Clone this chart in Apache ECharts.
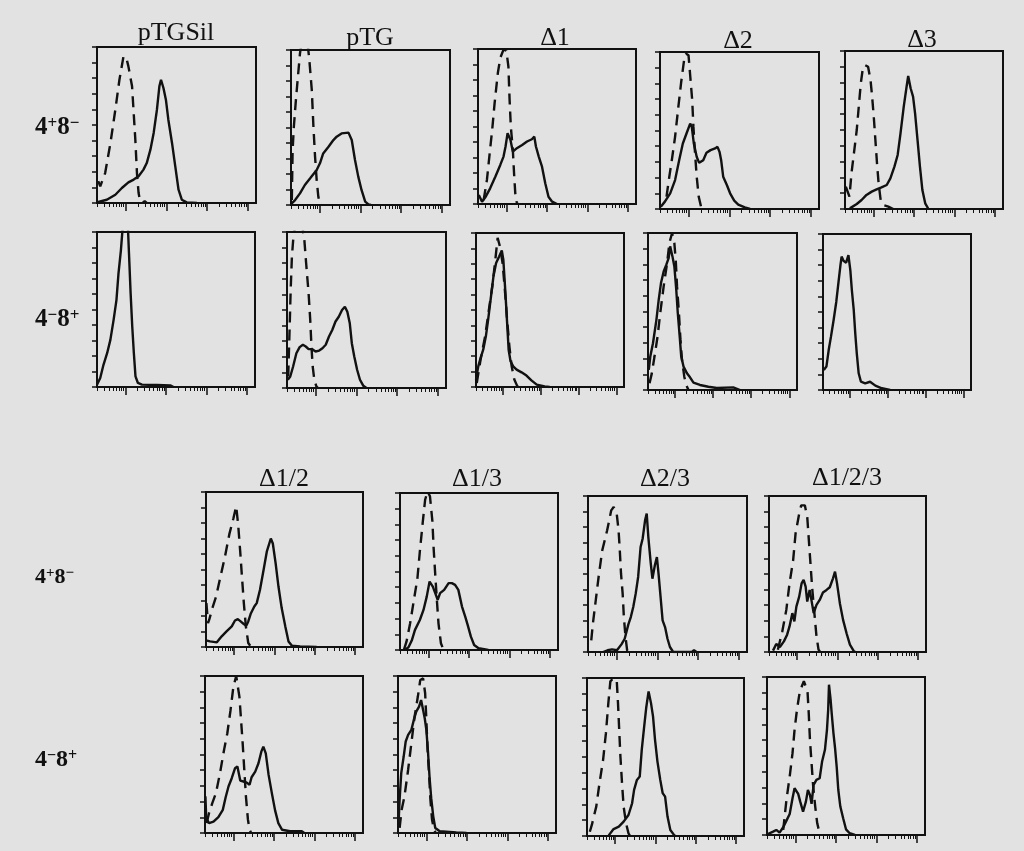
<!DOCTYPE html>
<html>
<head>
<meta charset="utf-8">
<script src="https://cdn.jsdelivr.net/npm/echarts@6/dist/echarts.min.js"></script>
<style>
html,body{margin:0;padding:0;background:#e2e2e2;}
#chart{width:1024px;height:851px;}
</style>
</head>
<body>
<div id="chart"></div>
<script>
// ---- titles and row labels ----
const panelTitles = ['pTGSil', 'pTG', 'Δ1', 'Δ2', 'Δ3', 'Δ1/2', 'Δ1/3', 'Δ2/3', 'Δ1/2/3'];
const rowLabels = ['4⁺8⁻', '4⁻8⁺', '4⁺8⁻', '4⁻8⁺'];
// x axis: log fluorescence in decades, major ticks at each decade
const majorTicks = [0.7, 1.7, 2.7, 3.7];
const minorTicks = [0.001, 0.177, 0.302, 0.399, 0.478, 0.545, 0.603, 0.654,
  1.001, 1.177, 1.302, 1.399, 1.478, 1.545, 1.603, 1.654,
  2.001, 2.177, 2.302, 2.399, 2.478, 2.545, 2.603, 2.654,
  3.001, 3.177, 3.302, 3.399, 3.478, 3.545, 3.603, 3.654];

// ---- histograms (x = decades, y = relative cell number) ----
// 4+8- , top block
const pTGSil_4p8m_dashed = [[0.03,1.4],[0.08,1.07],[0.20,1.92],[0.33,3.85],[0.45,5.98],[0.55,7.9],[0.65,9.4],[0.72,9.3],[0.77,8.76],[0.86,7.48],[0.90,5.77],[0.94,4.06],[0.98,1.92],[1.02,0.64],[1.06,0.1],[1.12,0],[1.17,0.12],[1.22,0]];
const pTGSil_4p8m_solid = [[0.01,0.05],[0.04,0.11],[0.24,0.21],[0.45,0.53],[0.61,0.96],[0.77,1.32],[0.90,1.50],[1.02,1.71],[1.14,2.14],[1.22,2.56],[1.31,3.42],[1.39,4.49],[1.47,5.98],[1.53,7.48],[1.57,7.9],[1.63,7.37],[1.69,6.62],[1.75,5.34],[1.84,3.85],[1.92,2.35],[2.00,0.85],[2.08,0.21],[2.20,0.04],[2.45,0]];
const pTG_4p8m_dashed = [[0.02,0.32],[0.04,3.55],[0.07,5.05],[0.12,6.77],[0.17,8.28],[0.22,9.78],[0.30,11.1],[0.40,10.6],[0.45,9.35],[0.51,7.42],[0.55,5.05],[0.59,3.12],[0.63,1.61],[0.67,0.54],[0.71,0.06],[0.75,0]];
const pTG_4p8m_solid = [[0,0.06],[0.10,0.32],[0.22,0.75],[0.34,1.29],[0.47,1.72],[0.63,2.26],[0.71,2.69],[0.79,3.33],[0.92,3.76],[1.04,4.19],[1.12,4.41],[1.24,4.62],[1.41,4.67],[1.45,4.58],[1.49,4.19],[1.57,2.9],[1.65,1.83],[1.73,0.97],[1.82,0.22],[1.90,0.04],[1.96,0]];
const d1_4p8m_dashed = [[0.14,0.26],[0.22,1.55],[0.28,3.06],[0.35,4.78],[0.41,6.51],[0.49,8.45],[0.55,9.42],[0.63,9.96],[0.70,9.9],[0.75,8.88],[0.78,6.72],[0.81,5.0],[0.86,3.49],[0.89,1.98],[0.92,0.69],[0.96,0.04],[1.0,0]];
const d1_4p8m_solid = [[0.02,0.58],[0.10,0.15],[0.18,0.43],[0.30,1.01],[0.43,1.77],[0.55,2.52],[0.63,3.06],[0.68,3.71],[0.73,4.57],[0.80,4.14],[0.86,3.38],[0.96,3.6],[1.09,3.81],[1.21,4.03],[1.33,4.18],[1.39,4.35],[1.43,3.71],[1.50,3.06],[1.58,2.41],[1.66,1.34],[1.74,0.47],[1.83,0.15],[1.95,0]];
const d2_4p8m_dashed = [[0.16,0.78],[0.21,1.74],[0.29,3.11],[0.37,4.6],[0.45,6.5],[0.52,8.09],[0.59,9.47],[0.64,9.89],[0.70,9.79],[0.74,8.52],[0.79,6.93],[0.82,5.23],[0.86,3.54],[0.90,2.06],[0.95,0.78],[1.01,0.11],[1.05,0]];
const d2_4p8m_solid = [[0.02,0.15],[0.12,0.47],[0.25,1.0],[0.37,1.84],[0.47,3.11],[0.56,4.17],[0.65,4.81],[0.74,5.44],[0.78,5.23],[0.83,4.17],[0.90,3.33],[0.96,2.94],[1.06,3.11],[1.14,3.58],[1.24,3.75],[1.35,3.86],[1.41,3.96],[1.46,3.64],[1.50,3.11],[1.55,2.06],[1.64,1.53],[1.72,1.0],[1.82,0.53],[1.92,0.28],[2.08,0.11],[2.21,0]];
const d3_4p8m_dashed = [[0.02,1.41],[0.11,0.78],[0.16,2.26],[0.22,3.52],[0.29,5.0],[0.34,6.48],[0.39,7.95],[0.44,8.9],[0.49,9.11],[0.57,9.0],[0.63,8.16],[0.67,7.11],[0.71,5.84],[0.75,4.37],[0.79,2.89],[0.83,1.62],[0.88,0.57],[0.94,0.25],[1.07,0.15],[1.19,0]];
const d3_4p8m_solid = [[0.12,0.04],[0.29,0.32],[0.41,0.57],[0.53,0.89],[0.66,1.1],[0.78,1.24],[0.90,1.37],[1.03,1.52],[1.12,1.94],[1.22,2.68],[1.30,3.42],[1.37,4.79],[1.45,6.48],[1.52,7.74],[1.56,8.42],[1.62,7.64],[1.68,7.11],[1.73,6.05],[1.79,4.37],[1.85,2.68],[1.91,1.2],[1.98,0.36],[2.06,0]];
// 4-8+ , top block
const pTGSil_4m8p_solid = [[0,0.15],[0.08,0.58],[0.16,1.43],[0.25,2.18],[0.33,3.04],[0.41,4.33],[0.48,5.61],[0.53,7.32],[0.59,8.82],[0.64,10.5],[0.70,11.4],[0.76,10.5],[0.79,8.6],[0.83,6.04],[0.87,3.9],[0.91,2.18],[0.95,0.69],[1.01,0.26],[1.11,0.15],[1.48,0.13],[1.81,0.1],[1.89,0]];
const pTG_4m8p_dashed = [[0.03,0.74],[0.07,4.36],[0.09,6.28],[0.12,8.4],[0.16,9.79],[0.23,10.7],[0.35,10.7],[0.42,9.68],[0.47,7.98],[0.53,6.06],[0.57,4.36],[0.60,2.66],[0.63,1.38],[0.67,0.53],[0.72,0.11],[0.76,0]];
const pTG_4m8p_solid = [[0.02,0.53],[0.08,0.74],[0.15,1.38],[0.23,2.23],[0.31,2.62],[0.39,2.77],[0.46,2.66],[0.53,2.49],[0.62,2.49],[0.70,2.34],[0.79,2.4],[0.87,2.55],[0.95,2.77],[1.03,3.3],[1.11,3.72],[1.19,4.26],[1.27,4.57],[1.35,5.0],[1.42,5.21],[1.48,4.89],[1.54,4.15],[1.59,2.87],[1.65,2.02],[1.72,1.17],[1.79,0.53],[1.87,0.15],[1.95,0]];
const d1_4m8p_dashed = [[0.02,0.26],[0.12,1.77],[0.24,3.29],[0.34,5.02],[0.43,6.54],[0.51,8.27],[0.57,9.68],[0.63,9.13],[0.70,8.05],[0.76,6.32],[0.82,4.37],[0.88,2.64],[0.94,1.34],[1.01,0.48],[1.09,0.04],[1.12,0]];
const d1_4m8p_solid = [[0,0.48],[0.06,1.34],[0.12,1.88],[0.19,2.42],[0.26,3.29],[0.32,4.37],[0.39,5.78],[0.46,7.19],[0.53,8.05],[0.61,8.48],[0.68,8.87],[0.72,8.27],[0.77,6.32],[0.82,4.16],[0.86,2.42],[0.91,1.67],[0.98,1.34],[1.07,1.13],[1.20,0.95],[1.33,0.74],[1.46,0.43],[1.60,0.15],[1.81,0.04],[1.94,0]];
const d2_4m8p_dashed = [[0.04,0.43],[0.10,1.06],[0.17,2.13],[0.25,3.4],[0.32,4.89],[0.41,6.6],[0.50,8.09],[0.56,9.36],[0.63,10.0],[0.69,9.36],[0.73,8.09],[0.76,6.6],[0.81,4.89],[0.85,3.19],[0.89,1.91],[0.95,0.85],[1.00,0.32],[1.06,0]];
const d2_4m8p_solid = [[0.02,1.28],[0.06,2.13],[0.13,2.98],[0.22,4.47],[0.28,5.74],[0.34,6.81],[0.41,7.55],[0.48,7.98],[0.54,8.4],[0.58,9.15],[0.64,8.51],[0.69,7.87],[0.74,6.38],[0.78,4.89],[0.83,3.4],[0.87,2.13],[0.93,1.49],[1.02,1.06],[1.10,0.81],[1.19,0.47],[1.36,0.32],[1.58,0.21],[1.80,0.13],[2.23,0.17],[2.41,0]];
const d3_4m8p_solid = [[0.02,1.28],[0.09,1.5],[0.15,2.56],[0.21,3.42],[0.28,4.49],[0.35,5.66],[0.41,6.94],[0.46,8.01],[0.49,8.55],[0.54,8.29],[0.61,8.16],[0.67,8.65],[0.72,7.69],[0.76,6.41],[0.81,5.13],[0.85,3.63],[0.89,2.35],[0.94,1.07],[1.00,0.53],[1.11,0.43],[1.24,0.53],[1.38,0.28],[1.55,0.11],[1.77,0]];
// 4+8- , bottom block
const d12_4p8m_dashed = [[0.01,2.83],[0.05,1.54],[0.08,1.76],[0.17,2.61],[0.25,3.25],[0.35,4.43],[0.47,5.82],[0.58,7.28],[0.68,8.29],[0.75,9.08],[0.80,7.86],[0.85,6.15],[0.89,4.65],[0.94,2.83],[0.99,1.33],[1.05,0.26],[1.11,0.04],[1.15,0]];
const d12_4p8m_solid = [[0,0.43],[0.10,0.36],[0.27,0.3],[0.39,0.69],[0.51,1.01],[0.64,1.33],[0.72,1.71],[0.79,1.8],[0.86,1.65],[0.93,1.5],[1.00,1.37],[1.05,1.65],[1.11,2.14],[1.20,2.61],[1.26,2.83],[1.34,3.68],[1.43,4.97],[1.51,6.15],[1.61,7.0],[1.66,6.68],[1.73,5.4],[1.80,3.9],[1.88,2.51],[1.97,1.33],[2.05,0.36],[2.13,0.09],[2.34,0.04],[2.75,0]];
const d13_4p8m_dashed = [[0.10,0.04],[0.16,0.53],[0.25,1.7],[0.33,2.98],[0.43,4.57],[0.49,6.28],[0.56,8.09],[0.62,9.57],[0.68,10.1],[0.74,9.79],[0.80,8.19],[0.83,6.49],[0.87,4.79],[0.91,3.19],[0.95,1.7],[1.01,0.43],[1.07,0.04],[1.1,0]];
const d13_4p8m_solid = [[0.12,0],[0.21,0.17],[0.29,0.6],[0.37,1.28],[0.49,1.91],[0.58,2.55],[0.66,3.4],[0.73,4.36],[0.81,4.04],[0.87,3.62],[0.93,3.19],[0.99,3.62],[1.09,3.83],[1.20,4.26],[1.28,4.26],[1.36,4.15],[1.44,3.83],[1.53,2.77],[1.61,2.13],[1.67,1.6],[1.75,0.85],[1.83,0.32],[1.94,0.11],[2.18,0]];
const d23_4p8m_dashed = [[0.08,0.75],[0.12,1.82],[0.19,3.31],[0.27,5.02],[0.35,6.52],[0.47,7.8],[0.57,9.08],[0.63,9.29],[0.70,8.97],[0.75,7.8],[0.78,6.52],[0.81,5.02],[0.85,3.74],[0.88,2.24],[0.92,0.96],[0.96,0.11],[1.0,0]];
const d23_4p8m_solid = [[0.37,0],[0.48,0.11],[0.59,0.17],[0.71,0.11],[0.82,0.49],[0.90,0.85],[0.99,1.77],[1.05,2.24],[1.11,2.88],[1.17,3.74],[1.23,4.81],[1.29,6.73],[1.34,7.26],[1.40,8.44],[1.44,8.87],[1.48,7.37],[1.54,5.66],[1.58,4.7],[1.64,5.56],[1.69,6.09],[1.73,5.02],[1.78,3.53],[1.83,2.03],[1.89,1.6],[1.95,0.85],[2.01,0.32],[2.09,0],[2.55,0],[2.6,0.12],[2.66,0]];
const d123_4p8m_dashed = [[0.22,0.15],[0.33,1.32],[0.43,2.7],[0.51,4.4],[0.60,5.89],[0.66,7.6],[0.75,8.87],[0.80,9.4],[0.89,9.4],[0.95,8.66],[0.99,7.17],[1.03,5.68],[1.07,4.19],[1.12,2.7],[1.18,1.0],[1.23,0.15],[1.27,0]];
const d123_4p8m_solid = [[0.10,0.09],[0.18,0.51],[0.27,0.32],[0.37,0.68],[0.45,1.11],[0.51,1.64],[0.58,2.49],[0.63,1.96],[0.68,2.91],[0.75,3.55],[0.81,4.4],[0.86,4.62],[0.91,4.19],[0.95,3.23],[1.01,3.98],[1.05,3.98],[1.11,2.49],[1.18,3.02],[1.26,3.34],[1.34,3.81],[1.43,3.98],[1.51,4.15],[1.59,4.72],[1.64,5.15],[1.69,4.4],[1.76,3.13],[1.84,2.06],[1.93,1.17],[2.01,0.47],[2.11,0.04],[2.15,0]];
// 4-8+ , bottom block
const d12_4m8p_dashed = [[0.04,0.63],[0.10,1.27],[0.18,1.9],[0.27,2.54],[0.37,3.81],[0.47,5.29],[0.55,6.34],[0.63,7.82],[0.70,9.3],[0.77,10.0],[0.81,9.94],[0.85,8.67],[0.89,7.19],[0.93,5.71],[0.97,4.02],[1.01,2.33],[1.06,0.85],[1.10,0.21],[1.14,0]];
const d12_4m8p_solid = [[0.01,2.33],[0.03,0.95],[0.10,0.63],[0.21,0.72],[0.33,1.01],[0.44,1.48],[0.51,2.28],[0.58,2.96],[0.66,3.49],[0.74,4.12],[0.80,4.23],[0.87,3.34],[0.95,3.28],[1.03,3.21],[1.10,3.07],[1.15,3.55],[1.24,3.91],[1.32,4.44],[1.39,5.18],[1.44,5.5],[1.50,5.07],[1.57,3.7],[1.65,2.54],[1.73,1.44],[1.81,0.63],[1.90,0.21],[2.10,0.11],[2.39,0.11],[2.45,0]];
const d13_4m8p_dashed = [[0.04,0.32],[0.09,1.48],[0.16,2.33],[0.25,4.03],[0.33,5.72],[0.41,7.42],[0.49,8.69],[0.55,9.75],[0.62,9.85],[0.67,8.9],[0.70,7.2],[0.73,5.3],[0.77,3.6],[0.80,2.12],[0.84,0.85],[0.89,0.21],[0.93,0]];
const d13_4m8p_solid = [[0.01,0.42],[0.04,2.12],[0.08,3.81],[0.14,4.87],[0.19,5.83],[0.25,6.25],[0.33,6.57],[0.39,7.2],[0.45,7.73],[0.52,8.05],[0.57,8.47],[0.62,7.84],[0.66,7.31],[0.70,6.57],[0.74,5.19],[0.78,3.5],[0.82,2.22],[0.87,1.06],[0.92,0.32],[1.03,0.11],[1.44,0.04],[1.69,0]];
const d23_4m8p_dashed = [[0.07,0.27],[0.12,0.7],[0.23,1.86],[0.31,3.34],[0.40,4.82],[0.47,6.51],[0.53,8.41],[0.58,9.79],[0.66,10.0],[0.74,9.79],[0.77,8.41],[0.80,6.72],[0.83,5.03],[0.87,3.34],[0.91,1.86],[0.97,0.8],[1.03,0.17],[1.07,0]];
const d23_4m8p_solid = [[0.54,0.04],[0.66,0.44],[0.79,0.59],[0.91,0.91],[1.03,1.33],[1.12,2.07],[1.17,2.92],[1.24,3.55],[1.31,3.76],[1.36,5.45],[1.42,6.93],[1.47,8.1],[1.53,9.15],[1.59,8.41],[1.64,7.57],[1.69,6.09],[1.75,4.71],[1.82,3.55],[1.88,2.71],[1.94,2.49],[2.00,1.23],[2.07,0.38],[2.17,0.04],[2.2,0]];
const d123_4m8p_dashed = [[0.40,0.32],[0.48,2.22],[0.56,3.7],[0.63,5.18],[0.68,6.66],[0.74,7.93],[0.81,9.09],[0.91,9.73],[1.00,9.09],[1.03,7.72],[1.06,6.03],[1.10,4.55],[1.14,3.07],[1.19,1.8],[1.24,0.74],[1.29,0.21],[1.32,0]];
const d123_4m8p_solid = [[0.02,0.06],[0.15,0.21],[0.23,0.32],[0.31,0.15],[0.40,0.49],[0.48,0.91],[0.56,1.33],[0.63,2.33],[0.68,2.96],[0.77,2.6],[0.82,2.11],[0.89,1.48],[0.96,2.11],[1.01,2.85],[1.06,2.54],[1.10,1.97],[1.15,3.17],[1.22,3.49],[1.30,3.59],[1.36,4.65],[1.43,5.39],[1.48,6.66],[1.51,7.93],[1.53,9.51],[1.57,8.56],[1.60,7.61],[1.64,6.45],[1.68,5.5],[1.72,4.33],[1.76,2.85],[1.81,1.8],[1.88,1.06],[1.95,0.36],[2.04,0.11],[2.17,0]];

// ---- layout (pixel boxes of the 18 panels) ----
const panels = [
  {l:97,  t:47,  w:159, h:156, solid:pTGSil_4p8m_solid, dashed:pTGSil_4p8m_dashed},
  {l:291, t:50,  w:159, h:155, solid:pTG_4p8m_solid,    dashed:pTG_4p8m_dashed},
  {l:478, t:49,  w:158, h:155, solid:d1_4p8m_solid,     dashed:d1_4p8m_dashed},
  {l:660, t:52,  w:159, h:157, solid:d2_4p8m_solid,     dashed:d2_4p8m_dashed},
  {l:845, t:51,  w:158, h:158, solid:d3_4p8m_solid,     dashed:d3_4p8m_dashed},
  {l:97,  t:232, w:158, h:155, solid:pTGSil_4m8p_solid, dashed:null},
  {l:287, t:232, w:159, h:156, solid:pTG_4m8p_solid,    dashed:pTG_4m8p_dashed},
  {l:476, t:233, w:148, h:154, solid:d1_4m8p_solid,     dashed:d1_4m8p_dashed},
  {l:648, t:233, w:149, h:157, solid:d2_4m8p_solid,     dashed:d2_4m8p_dashed},
  {l:823, t:234, w:148, h:156, solid:d3_4m8p_solid,     dashed:null},
  {l:206, t:492, w:157, h:155, solid:d12_4p8m_solid,    dashed:d12_4p8m_dashed},
  {l:400, t:493, w:158, h:157, solid:d13_4p8m_solid,    dashed:d13_4p8m_dashed},
  {l:588, t:496, w:159, h:156, solid:d23_4p8m_solid,    dashed:d23_4p8m_dashed},
  {l:769, t:496, w:157, h:156, solid:d123_4p8m_solid,   dashed:d123_4p8m_dashed},
  {l:205, t:676, w:158, h:157, solid:d12_4m8p_solid,    dashed:d12_4m8p_dashed},
  {l:398, t:676, w:158, h:157, solid:d13_4m8p_solid,    dashed:d13_4m8p_dashed},
  {l:587, t:678, w:157, h:158, solid:d23_4m8p_solid,    dashed:d23_4m8p_dashed},
  {l:767, t:677, w:158, h:158, solid:d123_4m8p_solid,   dashed:d123_4m8p_dashed}
];
const titlePos = [[176,33],[370,38],[555,38],[738,41],[922,40],[284,479],[477,479],[665,479],[847,478]];
const labelPos = [[35,128,25],[35,320,25],[35,577,22],[35,760,24]];

const INK = '#111';
const SERIF = '"Liberation Serif","Times New Roman",serif';
const option = {backgroundColor:'#e2e2e2', animation:false, grid:[], xAxis:[], yAxis:[], series:[], graphic:[]};

panels.forEach((p, i) => {
  option.grid.push({left:p.l, top:p.t, width:p.w, height:p.h, show:true, borderColor:INK, borderWidth:2, backgroundColor:'transparent'});
  const baseX = {gridIndex:i, type:'value', min:0, max:3.9, position:'bottom',
    axisLine:{show:true, lineStyle:{color:INK, width:2}}, splitLine:{show:false}, axisLabel:{show:false}};
  option.xAxis.push(Object.assign({}, baseX, {axisTick:{show:true, customValues:majorTicks, length:8, lineStyle:{color:INK, width:1.5}}}));
  option.xAxis.push(Object.assign({}, baseX, {axisTick:{show:true, customValues:minorTicks, length:4, lineStyle:{color:INK, width:1}}}));
  option.yAxis.push({gridIndex:i, type:'value', min:0, max:10, interval:1,
    axisLine:{show:true, lineStyle:{color:INK, width:2}}, splitLine:{show:false}, axisLabel:{show:false},
    axisTick:{show:true, length:5, lineStyle:{color:INK, width:1.5}}});
  if (p.dashed) {
    option.series.push({type:'line', xAxisIndex:2*i, yAxisIndex:i, data:p.dashed, showSymbol:false, silent:true, clip:true,
      lineStyle:{color:INK, width:2.4, type:[11,7]}});
  }
  option.series.push({type:'line', xAxisIndex:2*i, yAxisIndex:i, data:p.solid, showSymbol:false, silent:true, clip:true,
    lineStyle:{color:INK, width:2.4}});
});

panelTitles.forEach((t, i) => {
  option.graphic.push({type:'text', x:titlePos[i][0], y:titlePos[i][1], silent:true,
    style:{text:t, fill:INK, font:'26px ' + SERIF, textAlign:'center', textVerticalAlign:'middle'}});
});

rowLabels.forEach((lab, i) => {
  const fs = labelPos[i][2];
  const chars = Array.from(lab);
  const sup = c => (c === '⁺' ? '+' : '−');
  const txt = '{n|' + chars[0] + '}{s|' + sup(chars[1]) + '}{n|' + chars[2] + '}{s|' + sup(chars[3]) + '}';
  option.graphic.push({type:'text', x:labelPos[i][0], y:labelPos[i][1], silent:true,
    style:{text:txt, textAlign:'left', textVerticalAlign:'middle',
      rich:{
        n:{fontFamily:SERIF, fontWeight:'bold', fontSize:fs, fill:INK, lineHeight:fs},
        s:{fontFamily:SERIF, fontWeight:'bold', fontSize:Math.round(fs*0.68), fill:INK, verticalAlign:'top', lineHeight:fs}
      }}});
});

const chart = echarts.init(document.getElementById('chart'), null, {renderer:'canvas'});
chart.setOption(option);
</script>
</body>
</html>
